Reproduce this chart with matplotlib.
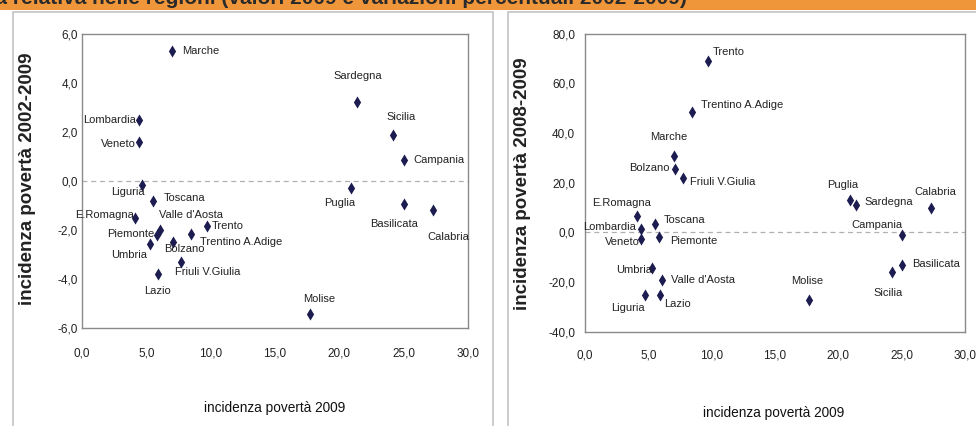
import matplotlib
matplotlib.use("Agg")
import matplotlib.pyplot as plt
from matplotlib import font_manager as fm
from matplotlib.patches import Rectangle
from matplotlib.ticker import FuncFormatter, MultipleLocator

# ---------------- data ----------------
regions = ["Piemonte", "Valle d'Aosta", "Lombardia", "Trentino A.Adige", "Bolzano",
           "Trento", "Veneto", "Friuli V.Giulia", "Liguria", "E.Romagna", "Toscana",
           "Umbria", "Marche", "Lazio", "Molise", "Campania", "Puglia", "Basilicata",
           "Calabria", "Sicilia", "Sardegna"]
incidenza_2009 = [5.85, 6.1, 4.4, 8.45, 7.1, 9.7, 4.4, 7.7, 4.7, 4.1, 5.5,
                  5.3, 7.0, 5.9, 17.7, 25.0, 20.9, 25.0, 27.3, 24.2, 21.4]
var_2002_2009 = [-2.2, -2.0, 2.5, -2.15, -2.5, -1.85, 1.6, -3.3, -0.15, -1.5, -0.83,
                 -2.57, 5.3, -3.8, -5.43, 0.86, -0.3, -0.94, -1.18, 1.88, 3.24]
var_2008_2009 = [-1.9, -19.2, 1.3, 48.5, 25.6, 68.9, -2.6, 21.8, -25.2, 6.4, 3.4,
                 -14.4, 30.6, -25.2, -27.2, -1.0, 13.1, -13.1, 9.75, -15.8, 10.8]
x_ticks = [0, 5, 10, 15, 20, 25, 30]
title = ("Figura 4 - Incidenza della povertà relativa nelle regioni "
         "(valori 2009 e variazioni percentuali 2002-2009)")
xlabel = "incidenza povertà 2009"
ylabel_left = "incidenza povertà 2002-2009"
ylabel_right = "incidenza povertà 2008-2009"

# label placement (pixel offsets from marker, horizontal alignment)
lab_left = {
    "Marche": (10, 0, "left"), "Sardegna": (0, 26, "center"), "Lombardia": (-3, 0, "right"),
    "Veneto": (-3, -2, "right"), "Sicilia": (8, 18, "center"), "Campania": (10, 0, "left"),
    "Liguria": (2, -7, "right"), "Toscana": (11, 3, "left"), "Puglia": (-11, -15, "center"),
    "Basilicata": (-10, -20, "center"), "Calabria": (15, -27, "center"),
    "E.Romagna": (-1, 3, "right"), "Valle d'Aosta": (-1, 15, "left"),
    "Piemonte": (-3, 1, "right"), "Umbria": (-3, -11, "right"), "Bolzano": (-9, -7, "left"),
    "Trentino A.Adige": (9, -8, "left"), "Trento": (5, 0, "left"),
    "Friuli V.Giulia": (-6, -10, "left"), "Lazio": (0, -17, "center"),
    "Molise": (9, 15, "center"),
}
lab_right = {
    "Trento": (5, 9, "left"), "Trentino A.Adige": (9, 7, "left"), "Marche": (-5, 19, "center"),
    "Bolzano": (-5, 1, "right"), "Friuli V.Giulia": (7, -4, "left"), "Puglia": (-7, 15, "center"),
    "Sardegna": (8, 3, "left"), "Calabria": (5, 16, "center"), "E.Romagna": (-15, 13, "center"),
    "Toscana": (9, 4, "left"), "Lombardia": (-5, 2, "right"), "Veneto": (-1, -3, "right"),
    "Piemonte": (11, -4, "left"), "Campania": (-25, 10, "center"), "Basilicata": (10, 1, "left"),
    "Sicilia": (-3, -21, "center"), "Umbria": (0, -2, "right"), "Valle d'Aosta": (9, 0, "left"),
    "Liguria": (-17, -13, "center"), "Lazio": (4, -9, "left"), "Molise": (-2, 19, "center"),
}

# ---------------- fonts ----------------
names = {f.name for f in fm.fontManager.ttflist}
narrow = "Liberation Sans Narrow" if "Liberation Sans Narrow" in names else "Liberation Sans"
narrow_size = 9.5 if narrow == "Liberation Sans Narrow" else 8.0

W, H = 976, 426
fig = plt.figure(figsize=(W / 100, H / 100), dpi=100)
fig.patch.set_facecolor("white")


def fx(px):
    return px / W


def fy(py):
    return 1 - py / H


# orange banner with clipped title
fig.patches.append(Rectangle((0, fy(10)), 1, 10 / H + 0.01, transform=fig.transFigure,
                             facecolor="#F0963A", edgecolor="none", zorder=0))
fig.text(fx(687), fy(4.5), title, ha="right", va="baseline", fontsize=15,
         fontweight="bold", color="#2a2a2a", family="Liberation Sans", zorder=1)

# panel frames
for x0, x1 in [(13, 493), (508, 990)]:
    fig.patches.append(Rectangle((fx(x0), -0.05), fx(x1) - fx(x0), fy(12) + 0.05,
                                 transform=fig.transFigure, fill=False,
                                 edgecolor="#c4c4c4", linewidth=1.2, zorder=0))

fmt = FuncFormatter(lambda v, p: f"{v:.1f}".replace(".", ","))
marker_color = "#1c1c50"


def setup(ax, yvals, ylim, ystep, labels, ypad, xpad):
    ax.scatter(incidenza_2009, yvals, marker="d", s=38, color=marker_color, zorder=3,
               linewidths=0)
    ax.axhline(0, color="#b0b0b0", linestyle=(0, (4, 3)), linewidth=0.9, zorder=1)
    ax.set_xlim(0, 30)
    ax.set_ylim(*ylim)
    ax.set_xticks(x_ticks)
    ax.yaxis.set_major_locator(MultipleLocator(ystep))
    ax.xaxis.set_major_formatter(fmt)
    ax.yaxis.set_major_formatter(fmt)
    ax.tick_params(length=0, labelsize=narrow_size + 0.5, colors="#222222")
    ax.tick_params(axis="y", pad=ypad)
    ax.tick_params(axis="x", pad=xpad)
    for lbl in ax.get_xticklabels() + ax.get_yticklabels():
        lbl.set_family(narrow)
    for s in ax.spines.values():
        s.set_color("#8a8a8a")
        s.set_linewidth(1.0)
    for name, xv, yv in zip(regions, incidenza_2009, yvals):
        dx, dy, ha = labels[name]
        ax.annotate(name, (xv, yv), xytext=(dx, dy), textcoords="offset pixels",
                    ha=ha, va="center", fontsize=narrow_size, family=narrow,
                    color="#222222", zorder=4)


ax1 = fig.add_axes([fx(82), fy(328), fx(468) - fx(82), (328 - 34) / H])
setup(ax1, var_2002_2009, (-6, 6), 2, lab_left, 3, 14)
ax2 = fig.add_axes([fx(585), fy(331.7), fx(965) - fx(585), (331.7 - 33.5) / H])
setup(ax2, var_2008_2009, (-40, 80), 20, lab_right, 7, 13)

# axis titles
fig.text(fx(28), fy(179), ylabel_left, rotation=90, ha="center", va="center",
         fontsize=13.5, fontweight="bold", family="Liberation Sans", color="#222222")
fig.text(fx(522.7), fy(184), ylabel_right, rotation=90, ha="center", va="center",
         fontsize=13.5, fontweight="bold", family="Liberation Sans", color="#222222")
fig.text(fx(275), fy(408), xlabel, ha="center", va="center", fontsize=narrow_size + 1.8,
         family=narrow, color="#111111")
fig.text(fx(774), fy(413), xlabel, ha="center", va="center", fontsize=narrow_size + 1.8,
         family=narrow, color="#111111")

fig.savefig("out.png", dpi=100)
